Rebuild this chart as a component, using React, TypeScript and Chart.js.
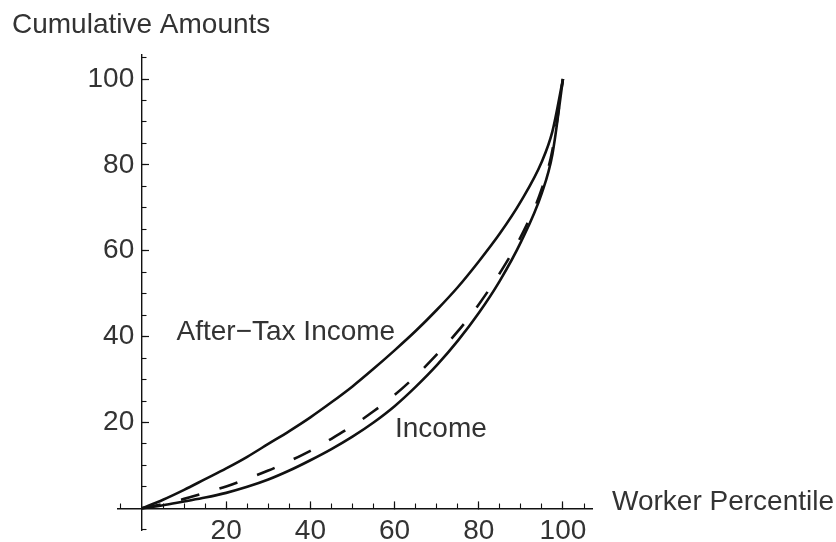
import React, { useEffect, useRef } from 'react';
import { Chart, registerables } from 'chart.js';

Chart.register(...registerables);

// ---- data ----
const percentiles = [0, 5, 10, 15, 20, 25, 30, 35, 40, 45, 50, 55, 60, 65, 70, 75, 80, 85, 90, 95, 97.5, 100];
const afterTaxIncome = [0, 2, 4.3, 6.8, 9.3, 12, 15, 18, 21.2, 24.7, 28.4, 32.5, 36.8, 41.3, 46.2, 51.5, 57.5, 64, 71.5, 80.8, 87.8, 100];
const middleCurve = [0, 1, 2.2, 3.6, 5.1, 6.9, 8.8, 11, 13.4, 16.2, 19.2, 22.6, 26.4, 30.8, 35.8, 41.2, 47.5, 54.8, 63.3, 74.5, 83.5, 100];
const income = [0, 0.7, 1.6, 2.5, 3.6, 5, 6.7, 8.8, 11.2, 13.8, 16.7, 20, 23.8, 28.3, 33.3, 39, 45.5, 53, 62, 73.5, 82.5, 100];

const xTickLabels = [20, 40, 60, 80, 100];
const yTickLabels = [20, 40, 60, 80, 100];
const xTitle = 'Worker Percentile';
const yTitle = 'Cumulative Amounts';
const curveLabels = [
  { text: 'After\u2212Tax Income', x: 8.2, y: 41.1 },
  { text: 'Income', x: 60.1, y: 18.5 },
];

// ---- axis ranges ----
const X_MIN = -5.7;
const X_MAX = 106.9;
const Y_MIN = -5.05;
const Y_MAX = 105.6;

const FONT = '"Liberation Sans", Arial, sans-serif';
const TEXT_COLOR = '#333';
const LINE_COLOR = '#111';

const toPoints = (ys: number[]) => percentiles.map((p, i) => ({ x: p, y: ys[i] }));

const textPlugin = {
  id: 'curveTexts',
  afterDraw(chart: any) {
    const { ctx, chartArea } = chart;
    const x = chart.scales.x;
    const y = chart.scales.y;
    ctx.save();
    ctx.font = `28px ${FONT}`;
    ctx.fillStyle = TEXT_COLOR;
    ctx.textBaseline = 'middle';
    ctx.textAlign = 'left';
    ctx.fillText(yTitle, 12, chartArea.top - 30);
    ctx.fillText(xTitle, chartArea.right + 20, y.getPixelForValue(0) - 6);
    curveLabels.forEach((l) => {
      ctx.fillText(l.text, x.getPixelForValue(l.x), y.getPixelForValue(l.y));
    });
    ctx.restore();
  },
};

const isMultiple = (v: number, step: number) => Math.abs(v / step - Math.round(v / step)) < 1e-6;

const zeroFit = (horizontal: boolean) => (s: any) => {
  if (horizontal) s.height = 0;
  else s.width = 0;
  s.paddingTop = 0;
  s.paddingBottom = 0;
  s.paddingLeft = 0;
  s.paddingRight = 0;
};

const majorTickColor = (c: any) =>
  c.tick && c.tick.value > 0 && isMultiple(c.tick.value, 20) ? LINE_COLOR : 'rgba(0,0,0,0)';
const minorTickColor = (c: any) =>
  c.tick && c.tick.value !== 0 && isMultiple(c.tick.value, 5) ? LINE_COLOR : 'rgba(0,0,0,0)';

export default function App() {
  const canvasRef = useRef<HTMLCanvasElement | null>(null);

  useEffect(() => {
    if (!canvasRef.current) return;
    const lineBase = {
      showLine: true,
      pointRadius: 0,
      borderColor: LINE_COLOR,
      borderWidth: 2.6,
      cubicInterpolationMode: 'monotone' as const,
      fill: false,
    };
    const chart = new Chart(canvasRef.current, {
      type: 'scatter',
      data: {
        datasets: [
          { ...lineBase, label: 'After-Tax Income', data: toPoints(afterTaxIncome) },
          { ...lineBase, label: 'Middle', data: toPoints(middleCurve), borderDash: [19, 21] },
          { ...lineBase, label: 'Income', data: toPoints(income) },
        ],
      },
      options: {
        animation: false,
        responsive: false,
        events: [],
        layout: { padding: { left: 118, right: 244, top: 55, bottom: 12 } },
        plugins: { legend: { display: false }, tooltip: { enabled: false } },
        scales: {
          x: {
            type: 'linear',
            min: X_MIN,
            max: X_MAX,
            position: { y: 0 } as any,
            afterFit: zeroFit(true),
            border: { display: true, color: LINE_COLOR, width: 1.4 },
            grid: {
              display: true,
              drawOnChartArea: false,
              drawTicks: true,
              tickLength: -8,
              tickWidth: 1.2,
              tickColor: majorTickColor,
            },
            ticks: {
              stepSize: 20,
              includeBounds: false,
              autoSkip: false,
              maxRotation: 0,
              padding: 14,
              color: TEXT_COLOR,
              font: { family: FONT, size: 28 },
              callback: (v: any) => (xTickLabels.includes(Number(v)) ? String(v) : ''),
            },
          },
          x2: {
            type: 'linear',
            axis: 'x',
            min: X_MIN,
            max: X_MAX,
            position: { y: 0 } as any,
            afterFit: zeroFit(true),
            border: { display: false },
            grid: {
              display: true,
              drawOnChartArea: false,
              drawTicks: true,
              tickLength: -4.5,
              tickWidth: 1.1,
              tickColor: minorTickColor,
            },
            ticks: { stepSize: 5, includeBounds: false, autoSkip: false, display: false },
          },
          y: {
            type: 'linear',
            min: Y_MIN,
            max: Y_MAX,
            position: { x: 0 } as any,
            afterFit: zeroFit(false),
            border: { display: true, color: LINE_COLOR, width: 1.4 },
            grid: {
              display: true,
              drawOnChartArea: false,
              drawTicks: true,
              tickLength: -8,
              tickWidth: 1.2,
              tickColor: majorTickColor,
            },
            ticks: {
              stepSize: 20,
              includeBounds: false,
              autoSkip: false,
              color: TEXT_COLOR,
              font: { family: FONT, size: 28 },
              callback: (v: any) => (yTickLabels.includes(Number(v)) ? `${v} ` : ''),
            },
          },
          y2: {
            type: 'linear',
            axis: 'y',
            min: Y_MIN,
            max: Y_MAX,
            position: { x: 0 } as any,
            afterFit: zeroFit(false),
            border: { display: false },
            grid: {
              display: true,
              drawOnChartArea: false,
              drawTicks: true,
              tickLength: -4.5,
              tickWidth: 1.1,
              tickColor: minorTickColor,
            },
            ticks: { stepSize: 5, includeBounds: false, autoSkip: false, display: false },
          },
        },
      } as any,
      plugins: [textPlugin],
    });
    return () => chart.destroy();
  }, []);

  return (
    <div style={{ position: 'fixed', left: 0, top: 0, width: 836, height: 542, background: '#fff' }}>
      <canvas ref={canvasRef} width={836} height={542} style={{ display: 'block' }} />
    </div>
  );
}
